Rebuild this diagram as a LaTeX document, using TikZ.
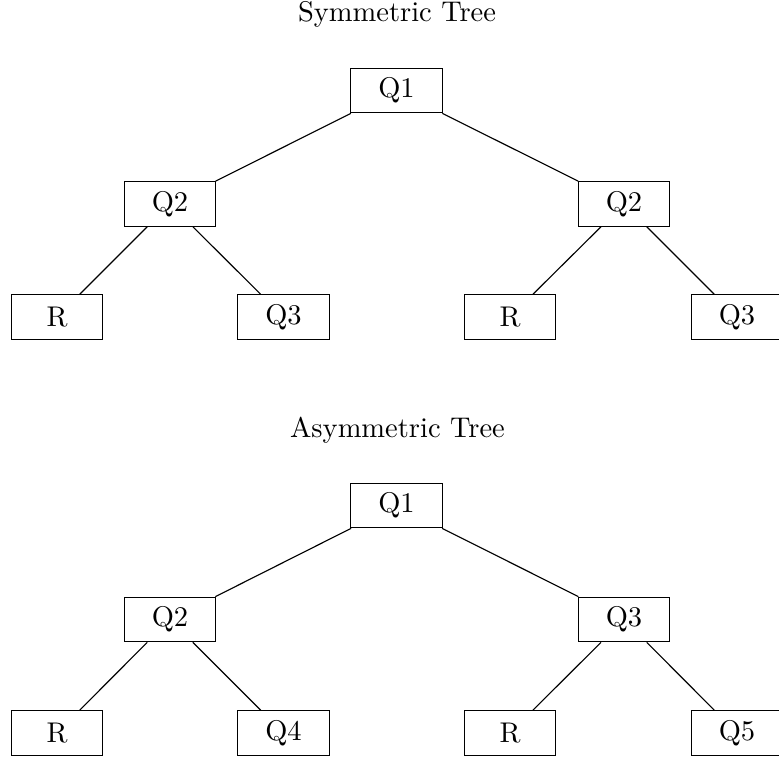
\documentclass[tikz,border=0pt]{standalone}
\begin{document}
\begin{tikzpicture}[x=0.351pt,y=-0.351pt,
  qbox/.style={draw,line width=0.4pt,minimum width=32pt,minimum height=15.6pt,inner sep=3.33pt},
  title/.style={anchor=base,inner sep=0pt},
  link/.style={line width=0.4pt}]
\useasboundingbox (0,0) rectangle (779,760);
\clip (0,0) rectangle (779,760);
% Symmetric tree
\node[title] (t1) at (397,21.7) {Symmetric Tree};
\node[qbox] (a1) at (396.5,90.5) {Q1};
\node[qbox] (a2) at (170,204) {Q2};
\node[qbox] (a3) at (624,204) {Q2};
\node[qbox] (a4) at (57,317) {R};
\node[qbox] (a5) at (283.5,317) {Q3};
\node[qbox] (a6) at (510,317) {R};
\node[qbox] (a7) at (737,317) {Q3};
\draw[link] (a1) -- (a2);
\draw[link] (a1) -- (a3);
\draw[link] (a2) -- (a4);
\draw[link] (a2) -- (a5);
\draw[link] (a3) -- (a6);
\draw[link] (a3) -- (a7);
% Asymmetric tree
\node[title] (t2) at (397.5,438) {Asymmetric Tree};
\node[qbox] (b1) at (396.5,505.5) {Q1};
\node[qbox] (b2) at (170,619.5) {Q2};
\node[qbox] (b3) at (624,619.5) {Q3};
\node[qbox] (b4) at (57,733) {R};
\node[qbox] (b5) at (283.5,733) {Q4};
\node[qbox] (b6) at (510,733) {R};
\node[qbox] (b7) at (737,733) {Q5};
\draw[link] (b1) -- (b2);
\draw[link] (b1) -- (b3);
\draw[link] (b2) -- (b4);
\draw[link] (b2) -- (b5);
\draw[link] (b3) -- (b6);
\draw[link] (b3) -- (b7);
\end{tikzpicture}
\end{document}
